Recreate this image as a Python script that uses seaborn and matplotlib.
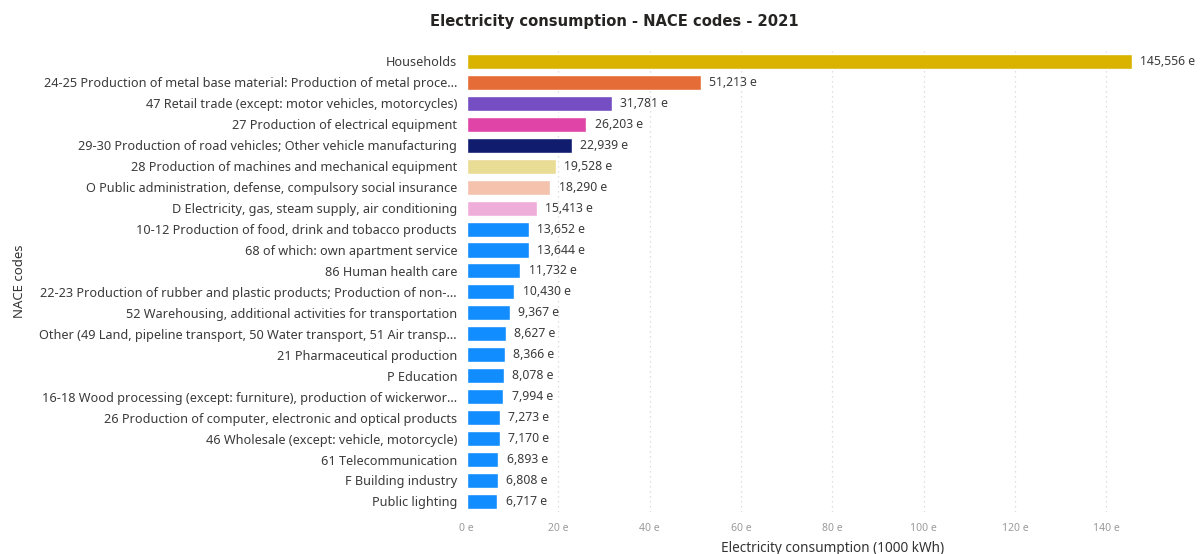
import matplotlib
matplotlib.use("Agg")
import matplotlib.pyplot as plt
import seaborn as sns
import pandas as pd

categories = [
    "Households",
    "24-25 Production of metal base material: Production of metal proce...",
    "47 Retail trade (except: motor vehicles, motorcycles)",
    "27 Production of electrical equipment",
    "29-30 Production of road vehicles; Other vehicle manufacturing",
    "28 Production of machines and mechanical equipment",
    "O Public administration, defense, compulsory social insurance",
    "D Electricity, gas, steam supply, air conditioning",
    "10-12 Production of food, drink and tobacco products",
    "68 of which: own apartment service",
    "86 Human health care",
    "22-23 Production of rubber and plastic products; Production of non-...",
    "52 Warehousing, additional activities for transportation",
    "Other (49 Land, pipeline transport, 50 Water transport, 51 Air transp...",
    "21 Pharmaceutical production",
    "P Education",
    "16-18 Wood processing (except: furniture), production of wickerwor...",
    "26 Production of computer, electronic and optical products",
    "46 Wholesale (except: vehicle, motorcycle)",
    "61 Telecommunication",
    "F Building industry",
    "Public lighting",
]
consumption = [
    145.556, 51.213, 31.781, 26.203, 22.939, 19.528, 18.290, 15.413,
    13.652, 13.644, 11.732, 10.430, 9.367, 8.627, 8.366, 8.078,
    7.994, 7.273, 7.170, 6.893, 6.808, 6.717,
]
bar_colors = [
    "#D9B300", "#E66C37", "#744EC2", "#E044A7", "#101C6E", "#E9DC95",
    "#F5C2AD", "#EFAEDA",
] + ["#118DFF"] * 14
x_ticks = [0, 20, 40, 60, 80, 100, 120, 140]

sns.set_theme(style="white")
plt.rcParams["font.family"] = ["Noto Sans", "DejaVu Sans"]

df = pd.DataFrame({"category": categories, "value": consumption})

fig = plt.figure(figsize=(12, 5.54), dpi=100)
ax = fig.add_axes([0.389, 0.076, 0.609, 0.832])

sns.barplot(data=df, y="category", x="value", hue="category",
            palette=bar_colors, legend=False, width=0.72,
            saturation=1, ax=ax, zorder=3)

ax.set_xlim(0, 160)
ax.set_ylim(len(categories) - 0.5, -0.5)
ax.set_xticks(x_ticks)
ax.set_xticklabels([f"{t} e" for t in x_ticks], color="#9a9a9a", fontsize=7.5)
ax.tick_params(axis="x", length=0, pad=8)
ax.tick_params(axis="y", length=0, pad=7, labelsize=9.15, labelcolor="#3b3b3b")

for x in x_ticks[1:]:
    ax.axvline(x, color="#d4d4d4", linestyle=(0, (1, 3)), linewidth=0.9, zorder=1)

for i, v in enumerate(consumption):
    label = f"{v:.3f}".replace(".", ",") + " e"
    ax.text(v + 1.8, i, label, va="center", ha="left",
            fontsize=8.8, color="#3b3b3b")

for s in ax.spines.values():
    s.set_visible(False)

ax.set_xlabel("Electricity consumption (1000 kWh)", fontsize=9.8, color="#333333",
              labelpad=5)
ax.set_ylabel("NACE codes", fontsize=9.5, color="#333333")
ax.yaxis.set_label_coords(-0.603, 0.5)

fig.suptitle("Electricity consumption - NACE codes - 2021", x=0.512, y=0.975,
             fontsize=10.6, fontweight="bold", color="#252423",
             family=["DejaVu Sans"])

fig.savefig("out.png", dpi=100, facecolor="white")
